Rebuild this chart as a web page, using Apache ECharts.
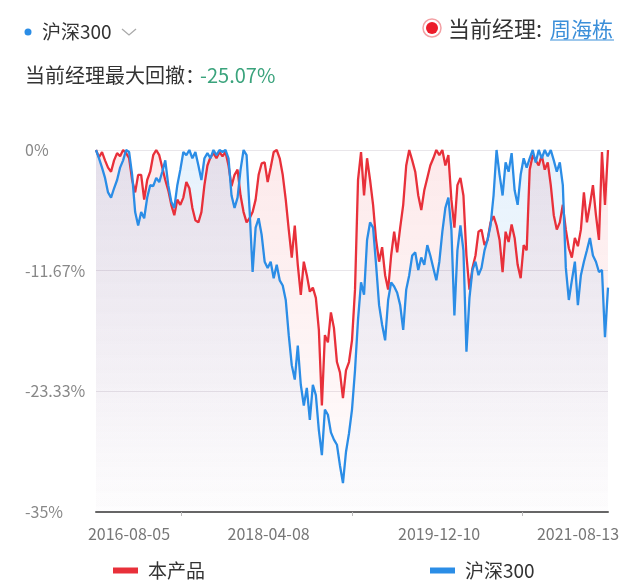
<!DOCTYPE html>
<html lang="zh-CN">
<head>
	<meta charset="UTF-8">
	<title>当前经理回撤</title>
	<script src="https://cdn.jsdelivr.net/npm/echarts@6/dist/echarts.min.js"></script>
	<style>
		html, body { margin: 0; padding: 0; background: #fff; }
		#charts { width: 640px; height: 580px; }
	</style>
</head>
<body>
<div id="charts"></div>
<script>
	// 区间起止日期 (数据点在区间内等距分布)
	var startDate = '2016-08-05';
	var endDate = '2021-08-13';
	// 横轴标签
	var xLabels = ['2016-08-05', '2018-04-08', '2019-12-10', '2021-08-13'];
	// 纵轴刻度
	var yMin = -35, yMax = 0, ySplit = 3;

	// 本产品 回撤(%)
	var bcp = [
		0, -0.7, -0.2, -1.0, -1.7, -2.1, -1.0, -0.3, -0.6, 0,
		-0.3, -0.8, -2.9, -4.1, -2.4, -2.4, -4.8, -2.9, -2.1, -0.5,
		0, -0.5, -1.7, -2.9, -3.9, -5.3, -6.3, -4.8, -5.3, -4.6,
		-3.1, -3.7, -5.6, -6.8, -7.0, -6.0, -3.4, -1.5, -0.7, -0.3,
		-0.8, -0.2, -0.6, -0.2, -1.5, -3.5, -2.4, -1.9, -4.4, -6.0,
		-7.0, -6.6, -6.0, -4.8, -2.4, -1.3, -1.2, -3.1, -1.7, -0.2,
		0, -0.8, -2.4, -4.8, -7.7, -10.4, -7.3, -11.1, -14.0, -10.8,
		-12.1, -13.7, -13.3, -14.3, -17.4, -24.7, -17.9, -18.6, -15.7, -17.2,
		-20.5, -21.5, -24.0, -21.3, -20.5, -18.4, -13.5, -2.9, -0.2, -4.4,
		-0.8, -2.9, -5.3, -8.7, -10.8, -9.4, -12.1, -13.5, -10.2, -7.9,
		-9.9, -7.5, -5.3, -1.5, 0, -1.0, -2.1, -4.4, -5.8, -3.9,
		-2.7, -1.5, -0.8, 0, -0.5, 0, -1.5, -0.5, -4.8, -7.5,
		-3.4, -2.7, -4.4, -10.2, -13.5, -11.4, -10.2, -7.9, -7.7, -9.2,
		-8.7, -7.0, -6.4, -7.3, -8.7, -11.8, -7.9, -8.9, -7.2, -8.5,
		-11.1, -12.4, -9.2, -9.7, -1.9, -0.5, -1.0, -1.5, -0.5, -1.9,
		-1.2, -3.4, -6.3, -7.7, -7.0, -5.3, -7.7, -9.5, -10.4, -8.5,
		-9.3, -7.7, -4.1, -7.0, -5.3, -3.4, -6.3, -8.7, -0.2, -5.3,
		0
	];
	// 沪深300 回撤(%)
	var hs300 = [
		0, -0.8, -1.7, -2.7, -4.1, -4.6, -3.7, -2.9, -1.7, -1.0,
		0, -0.2, -2.4, -6.0, -7.3, -6.0, -6.6, -4.6, -3.4, -3.5,
		-2.7, -3.1, -2.1, -1.0, -3.4, -5.0, -5.6, -3.4, -1.9, -0.2,
		-0.5, 0, -0.8, -0.2, -1.5, -2.9, -0.8, -0.3, -0.8, 0,
		-0.5, 0, -0.2, 0, -0.8, -4.4, -5.6, -4.6, -1.9, 0,
		-0.5, -5.8, -11.8, -7.5, -6.6, -8.2, -10.8, -11.4, -10.8, -12.4,
		-11.1, -12.6, -13.1, -14.5, -17.9, -20.8, -22.2, -18.9, -22.7, -24.7,
		-23.0, -26.1, -22.7, -23.7, -27.1, -29.5, -25.1, -25.6, -27.3, -28.0,
		-28.5, -30.5, -32.2, -29.2, -27.4, -25.1, -21.3, -16.4, -12.8, -14.0,
		-8.7, -7.0, -7.5, -11.1, -15.0, -16.9, -18.4, -14.5, -12.8, -13.2,
		-13.8, -15.0, -17.4, -13.5, -12.1, -10.2, -9.9, -11.6, -10.4, -11.1,
		-9.2, -10.2, -11.4, -12.6, -10.8, -7.9, -5.6, -4.6, -7.7, -16.0,
		-9.7, -7.3, -9.7, -19.5, -14.3, -11.6, -10.8, -12.1, -11.4, -9.7,
		-8.7, -7.3, -4.4, 0, -2.4, -4.4, -1.2, -2.1, -0.3, -3.9,
		-5.3, -2.4, -0.8, -1.7, -0.8, 0, -1.2, 0, -0.8, 0,
		-0.6, 0, -1.0, -2.1, -1.2, -3.4, -11.4, -14.5, -12.6, -10.8,
		-15.0, -12.1, -10.8, -9.7, -8.5, -10.2, -10.8, -11.8, -11.6, -18.1,
		-13.3
	];

	(function (echarts) {
		var fontCN = 'Noto Sans CJK SC';
		var t0 = Date.parse(startDate);
		var t1 = Date.parse(endDate);

		// 数据点按时间等距
		function toPairs(list) {
			var step = (t1 - t0) / (list.length - 1);
			return list.map(function (v, i) {
				return [t0 + step * i, v];
			});
		}

		var labelTimes = xLabels.map(function (d) {
			return Date.parse(d);
		});
		var tickTimes = [1, 3, 5].map(function (k) {
			return t0 + (t1 - t0) * k / 6;
		});

		function areaColor(r, g, b, a) {
			return new echarts.graphic.LinearGradient(0, 0, 0, 1, [
				{offset: 0, color: 'rgba(' + r + ',' + g + ',' + b + ',' + a + ')'},
				{offset: 1, color: 'rgba(' + r + ',' + g + ',' + b + ',0.01)'}
			]);
		}

		function headText(x, y, text, size, color) {
			return {
				type: 'text',
				style: {x: x, y: y, text: text, fontSize: size, fill: color, fontFamily: fontCN, verticalAlign: 'middle'}
			};
		}

		var chart = echarts.init(document.getElementById('charts'));
		chart.setOption({
			animation: false,
			color: ['#e8303a', '#2b8de6'],
			textStyle: {fontFamily: fontCN},
			grid: {left: 96, right: 32, top: 150, bottom: 68},
			graphic: [
				{type: 'circle', shape: {cx: 28, cy: 32, r: 3.5}, style: {fill: '#2b8de6'}},
				headText(42, 32, '沪深300', 19, '#333'),
				{type: 'polyline', shape: {points: [[122, 29], [129, 35], [136, 29]]}, style: {stroke: '#aaa', lineWidth: 1.3, fill: null}},
				{type: 'circle', shape: {cx: 432, cy: 28, r: 9}, style: {fill: '#fff', stroke: '#f3a0a4', lineWidth: 1.5}},
				{type: 'circle', shape: {cx: 432, cy: 28, r: 6}, style: {fill: '#ec1c2a'}},
				headText(448, 29, '当前经理:', 22, '#333'),
				headText(550, 29, '周海栋', 21, '#3b8fd9'),
				{type: 'line', shape: {x1: 550, y1: 40, x2: 614, y2: 40}, style: {stroke: '#3b8fd9', lineWidth: 1.2}},
				headText(25, 75, '当前经理最大回撤：', 20, '#333'),
				headText(200, 75, '-25.07%', 20, '#3aa37c')
			],
			legend: {
				left: 108,
				top: 556,
				icon: 'rect',
				itemWidth: 25,
				itemHeight: 6,
				itemGap: 225,
				textStyle: {fontSize: 19, color: '#333', padding: [0, 0, 0, 5]},
				data: ['本产品', '沪深300']
			},
			xAxis: {
				type: 'value',
				min: t0,
				max: t1,
				axisLine: {onZero: false, lineStyle: {color: '#666', width: 2}},
				axisTick: {show: true, length: 4, customValues: tickTimes, lineStyle: {color: '#bbb'}},
				axisLabel: {
					customValues: labelTimes,
					margin: 14,
					fontSize: 16,
					color: '#777',
					formatter: function (v) {
						var i = labelTimes.indexOf(v);
						if (i < 0) {
							return '';
						}
						var key = i === 0 ? 'first' : (i === xLabels.length - 1 ? 'last' : 'mid');
						return '{' + key + '|' + xLabels[i] + '}';
					},
					rich: {
						first: {fontSize: 16, color: '#777', padding: [0, 0, 0, 66]},
						mid: {fontSize: 16, color: '#777', padding: [0, 0, 0, 4]},
						last: {fontSize: 16, color: '#777', padding: [0, 60, 0, 0]}
					}
				},
				splitLine: {show: false}
			},
			yAxis: {
				type: 'value',
				min: yMin,
				max: yMax,
				interval: (yMax - yMin) / ySplit,
				axisLine: {show: false},
				axisTick: {show: false},
				axisLabel: {
					align: 'left',
					margin: 71,
					fontSize: 16,
					color: '#888',
					padding: [4, 0, 0, 0],
					formatter: function (v) {
						return parseFloat(v.toFixed(2)) + '%';
					}
				},
				splitLine: {lineStyle: {color: '#e9e6ea'}}
			},
			series: [
				{
					name: '本产品',
					type: 'line',
					showSymbol: false,
					lineStyle: {width: 2.3},
					areaStyle: {origin: 'start', color: areaColor(232, 48, 60, 0.15)},
					data: toPairs(bcp)
				},
				{
					name: '沪深300',
					type: 'line',
					showSymbol: false,
					lineStyle: {width: 2.3},
					areaStyle: {origin: 'start', color: areaColor(43, 141, 230, 0.17)},
					data: toPairs(hs300)
				}
			]
		});

		window.onresize = function () {
			chart.resize();
		};
	})(echarts);
</script>
</body>
</html>
